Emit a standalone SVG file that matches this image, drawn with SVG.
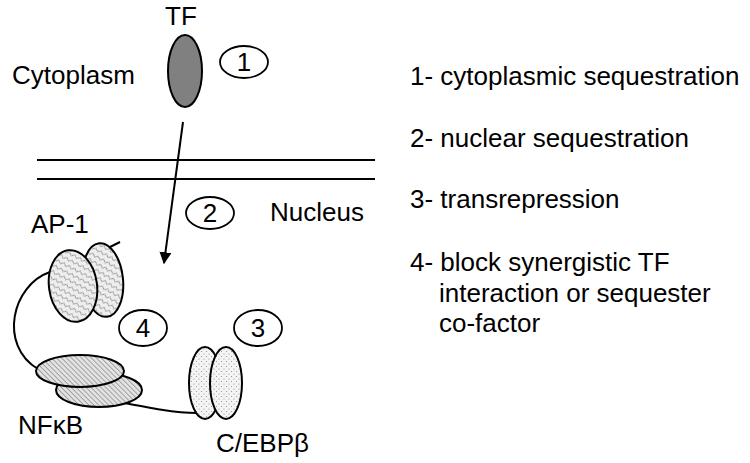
<svg xmlns="http://www.w3.org/2000/svg" width="750" height="463" viewBox="0 0 750 463">
<style>
text{font-family:"Liberation Sans",Arial,sans-serif;font-size:26px;fill:#000}
.num{text-anchor:middle}
.ol{stroke:#000;stroke-width:2}
.badge{fill:#fff;stroke:#000;stroke-width:1.8}
.ln{fill:none;stroke:#000;stroke-width:2}
</style>
<defs>
<pattern id="wave" width="6" height="6" patternUnits="userSpaceOnUse" patternTransform="rotate(35)">
<rect width="6" height="6" fill="#eeeeee"/>
<path d="M0,3 Q1.5,0.5 3,3 T6,3" fill="none" stroke="#808080" stroke-width="0.9"/>
</pattern>
<pattern id="hatch" width="3.5" height="3.5" patternUnits="userSpaceOnUse" patternTransform="rotate(-45)">
<rect width="3.5" height="3.5" fill="#e2e2e2"/>
<line x1="0" y1="0" x2="0" y2="3.5" stroke="#707070" stroke-width="1.1"/>
</pattern>
<pattern id="dots" width="5" height="5" patternUnits="userSpaceOnUse">
<rect width="5" height="5" fill="#f4f4f4"/>
<circle cx="1.5" cy="1.5" r="0.6" fill="#909090"/>
<circle cx="4" cy="4" r="0.6" fill="#909090"/>
</pattern>
<marker id="arr" viewBox="0 0 10 10" refX="9" refY="5" markerWidth="6" markerHeight="6" orient="auto" markerUnits="strokeWidth">
<path d="M0,0 L10,5 L0,10 Z" fill="#000"/>
</marker>
</defs>

<g id="membrane">
<line class="ln" x1="37" y1="160" x2="375" y2="160"/>
<line class="ln" x1="37" y1="179" x2="375" y2="179"/>
</g>

<g id="connectors">
<line class="ln" x1="183" y1="122" x2="164" y2="263" marker-end="url(#arr)"/>
<path class="ln" d="M50,272 C12,285 -2,345 38,369"/>
<path class="ln" d="M120,402 C150,408 175,413 197,413"/>
<line class="ln" x1="110" y1="247" x2="120" y2="242"/>
</g>

<g id="labels">
<text x="12" y="84">Cytoplasm</text>
<text x="270" y="221">Nucleus</text>
<text x="165" y="25">TF</text>
<text x="31" y="233">AP-1</text>
<text x="18" y="434">NFκB</text>
<text x="216" y="452">C/EBPβ</text>
</g>

<g id="tf">
<ellipse class="ol" cx="185" cy="71" rx="17" ry="36" fill="#808080"/>
</g>

<g id="ap1">
<ellipse class="ol" cx="103" cy="280" rx="20" ry="37" fill="url(#wave)" transform="rotate(-6 103 280)"/>
<ellipse class="ol" cx="73" cy="286" rx="24" ry="36" fill="url(#wave)" transform="rotate(-8 73 286)"/>
</g>

<g id="nfkb">
<ellipse class="ol" cx="99" cy="390" rx="43" ry="17" fill="url(#hatch)"/>
<ellipse class="ol" cx="80" cy="371" rx="44" ry="16" fill="url(#hatch)"/>
</g>

<g id="cebp">
<ellipse class="ol" cx="205" cy="383" rx="16" ry="36" fill="url(#dots)"/>
<ellipse class="ol" cx="226" cy="383" rx="16" ry="36" fill="url(#dots)"/>
</g>

<g id="badge1"><ellipse class="badge" cx="244" cy="62" rx="24" ry="16"/><text class="num" x="244" y="71">1</text></g>
<g id="badge2"><ellipse class="badge" cx="210" cy="213" rx="24" ry="16"/><text class="num" x="210" y="222">2</text></g>
<g id="badge3"><ellipse class="badge" cx="258" cy="328" rx="24" ry="18"/><text class="num" x="258" y="337">3</text></g>
<g id="badge4"><ellipse class="badge" cx="143" cy="328" rx="24" ry="18"/><text class="num" x="143" y="337">4</text></g>

<g id="legend">
<text x="410" y="85">1- cytoplasmic sequestration</text>
<text x="410" y="147">2- nuclear sequestration</text>
<text x="410" y="208">3- transrepression</text>
<text x="410" y="271">4- block synergistic TF</text>
<text x="439" y="302">interaction or sequester</text>
<text x="439" y="332">co-factor</text>
</g>
</svg>
